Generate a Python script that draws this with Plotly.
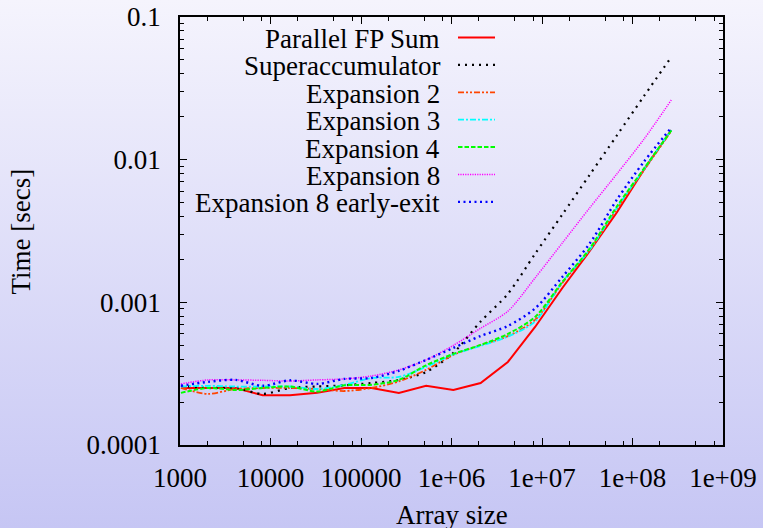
import plotly.graph_objects as go

# ---------------- data ----------------
array_size = [1024, 2048, 4096, 8192, 16384, 32768, 65536, 131072, 262144,
              524288, 1048576, 2097152, 4194304, 8388608, 16777216,
              33554432, 67108864, 134217728, 268435456]

parallel_fp_sum = [2.51e-4, 2.51e-4, 2.51e-4, 2.23e-4, 2.23e-4, 2.32e-4, 2.51e-4,
                   2.51e-4, 2.32e-4, 2.60e-4, 2.43e-4, 2.72e-4, 3.82e-4, 6.72e-4,
                   1.26e-3, 2.28e-3, 4.26e-3, 8.55e-3, 1.615e-2]
superaccumulator = [2.60e-4, 2.51e-4, 2.51e-4, 2.28e-4, 2.51e-4, 2.57e-4, 2.62e-4,
                    2.72e-4, 2.86e-4, 3.25e-4, 4.42e-4, 7.34e-4, 1.146e-3, 2.19e-3,
                    4.13e-3, 7.81e-3, 1.477e-2, 2.795e-2, 5.245e-2]
expansion_2 = [2.51e-4, 2.28e-4, 2.47e-4, 2.51e-4, 2.51e-4, 2.47e-4, 2.39e-4,
               2.51e-4, 2.79e-4, 3.36e-4, 4.28e-4, 5.01e-4, 5.79e-4, 7.53e-4,
               1.367e-3, 2.329e-3, 4.51e-3, 8.47e-3, 1.589e-2]
expansion_3 = [2.57e-4, 2.60e-4, 2.57e-4, 2.57e-4, 2.57e-4, 2.47e-4, 2.64e-4,
               2.95e-4, 3.00e-4, 3.53e-4, 4.31e-4, 4.95e-4, 5.75e-4, 7.34e-4,
               1.39e-3, 2.329e-3, 4.585e-3, 8.61e-3, 1.615e-2]
expansion_4 = [2.32e-4, 2.51e-4, 2.43e-4, 2.51e-4, 2.57e-4, 2.37e-4, 2.62e-4,
               2.64e-4, 2.86e-4, 3.62e-4, 4.35e-4, 5.03e-4, 6.00e-4, 7.90e-4,
               1.39e-3, 2.378e-3, 4.70e-3, 8.68e-3, 1.602e-2]
expansion_8 = [2.68e-4, 2.86e-4, 2.86e-4, 2.84e-4, 2.81e-4, 2.86e-4, 2.905e-4,
               3.05e-4, 3.36e-4, 3.95e-4, 4.99e-4, 6.58e-4, 8.66e-4, 1.483e-3,
               2.608e-3, 4.585e-3, 7.94e-3, 1.396e-2, 2.62e-2]
expansion_8_early_exit = [2.60e-4, 2.77e-4, 2.86e-4, 2.60e-4, 2.84e-4, 2.68e-4,
                          2.905e-4, 2.95e-4, 3.31e-4, 3.95e-4, 4.79e-4, 5.81e-4,
                          6.83e-4, 9.06e-4, 1.507e-3, 2.578e-3, 5.236e-3,
                          9.71e-3, 1.676e-2]

series_names = ["Parallel FP Sum", "Superaccumulator", "Expansion 2",
                "Expansion 3", "Expansion 4", "Expansion 8",
                "Expansion 8 early-exit"]
series_values = [parallel_fp_sum, superaccumulator, expansion_2, expansion_3,
                 expansion_4, expansion_8, expansion_8_early_exit]

x_tick_vals = [1e3, 1e4, 1e5, 1e6, 1e7, 1e8, 1e9]
x_tick_labels = ["1000", "10000", "100000", "1e+06", "1e+07", "1e+08", "1e+09"]
y_tick_vals = [1e-4, 1e-3, 1e-2, 1e-1]
y_tick_labels = ["0.0001", "0.001", "0.01", "0.1"]
x_minor_mult = [2, 5, 8]
y_minor_mult = [2, 3, 4, 5, 6, 7, 8, 9]

# ---------------- styles ----------------
colors = ["#ff0000", "#000000", "#ff4500", "#00ffff", "#00ff00", "#ff00ff", "#0000ff"]
dashes = ["solid", "2px,5px", "6px,2px,2px,2px,2px,2px", "6px,2px,2px,2px",
          "4.5px,2px", "1.2px,1.2px", "2px,3.5px"]
widths = [2, 2.2, 1.8, 1.8, 2, 1.5, 2.4]
shapes_line = ["linear", "spline", "spline", "spline", "spline", "spline", "spline"]

FONT = "Liberation Serif, DejaVu Serif, Times New Roman, serif"
W, H = 763, 528
ML, MR, MT, MB = 180, 40, 17, 83
PW, PH = W - ML - MR, H - MT - MB


def px_x(p):
    return (p - ML) / PW


def px_y(p):
    return (H - MB - p) / PH


fig = go.Figure()
for name, vals, c, d, w, s in zip(series_names, series_values, colors, dashes,
                                  widths, shapes_line):
    fig.add_trace(go.Scatter(x=array_size, y=vals, mode="lines", name=name,
                             line=dict(color=c, dash=d, width=w, shape=s,
                                       smoothing=0.8),
                             showlegend=False))

# hand-built gnuplot style legend (text right-aligned, sample on the right)
annotations = []
shapes = []
row0, row_step = 37.5, 27.4
for i, (name, c, d, w) in enumerate(zip(series_names, colors, dashes, widths)):
    yc = row0 + i * row_step
    annotations.append(dict(x=px_x(442), y=px_y(yc + 1.5), xref="paper", yref="paper",
                            text=name, showarrow=False, xanchor="right",
                            yanchor="middle",
                            font=dict(family=FONT, size=27, color="black")))
    shapes.append(dict(type="line", xref="paper", yref="paper",
                       x0=px_x(458), x1=px_x(495), y0=px_y(yc), y1=px_y(yc),
                       line=dict(color=c, dash=d, width=w)))

annotations.append(dict(x=px_x(21), y=px_y(231.5), xref="paper", yref="paper",
                        text="Time [secs]", textangle=-90, showarrow=False,
                        xanchor="center", yanchor="middle",
                        font=dict(family=FONT, size=27, color="black")))
annotations.append(dict(x=px_x(452), y=px_y(515), xref="paper", yref="paper",
                        text="Array size", showarrow=False,
                        xanchor="center", yanchor="middle",
                        font=dict(family=FONT, size=27, color="black")))

x_minor = [m * v for v in x_tick_vals[:-1] for m in x_minor_mult]
y_minor = [m * v for v in y_tick_vals[:-1] for m in y_minor_mult]

axis_common = dict(type="log", showgrid=False, zeroline=False, showline=True,
                   automargin=False,
                   linecolor="black", linewidth=1.5, mirror="allticks",
                   ticks="inside", ticklen=7, tickwidth=1, tickcolor="black",
                   tickfont=dict(family=FONT, size=27, color="black"))

fig.update_layout(
    width=W, height=H,
    margin=dict(l=ML, r=MR, t=MT, b=MB, pad=0, autoexpand=False),
    paper_bgcolor="rgba(0,0,0,0)",
    plot_bgcolor="rgba(0,0,0,0)",
    xaxis=dict(**axis_common, range=[3, 9], tickmode="array",
               tickvals=x_tick_vals, ticktext=x_tick_labels,
               ticklabelstandoff=8,
               minor=dict(ticks="inside", ticklen=4, tickwidth=1,
                          tickcolor="black", tickmode="array", tickvals=x_minor,
                          showgrid=False)),
    yaxis=dict(**axis_common, range=[-4, -1], tickmode="array",
               tickvals=y_tick_vals, ticktext=y_tick_labels,
               ticklabelstandoff=12,
               minor=dict(ticks="inside", ticklen=4, tickwidth=1,
                          tickcolor="black", tickmode="array", tickvals=y_minor,
                          showgrid=False)),
    annotations=annotations,
    shapes=shapes,
    showlegend=False,
)

post = """
document.body.style.margin='0';
document.body.style.padding='0';
var gd = document.getElementById('{plot_id}');
gd.style.background='linear-gradient(to bottom, #f5f4fd 0%, #c6c6f4 100%)';
"""

fig.write_html("out.html", post_script=post, config={"displayModeBar": False})
